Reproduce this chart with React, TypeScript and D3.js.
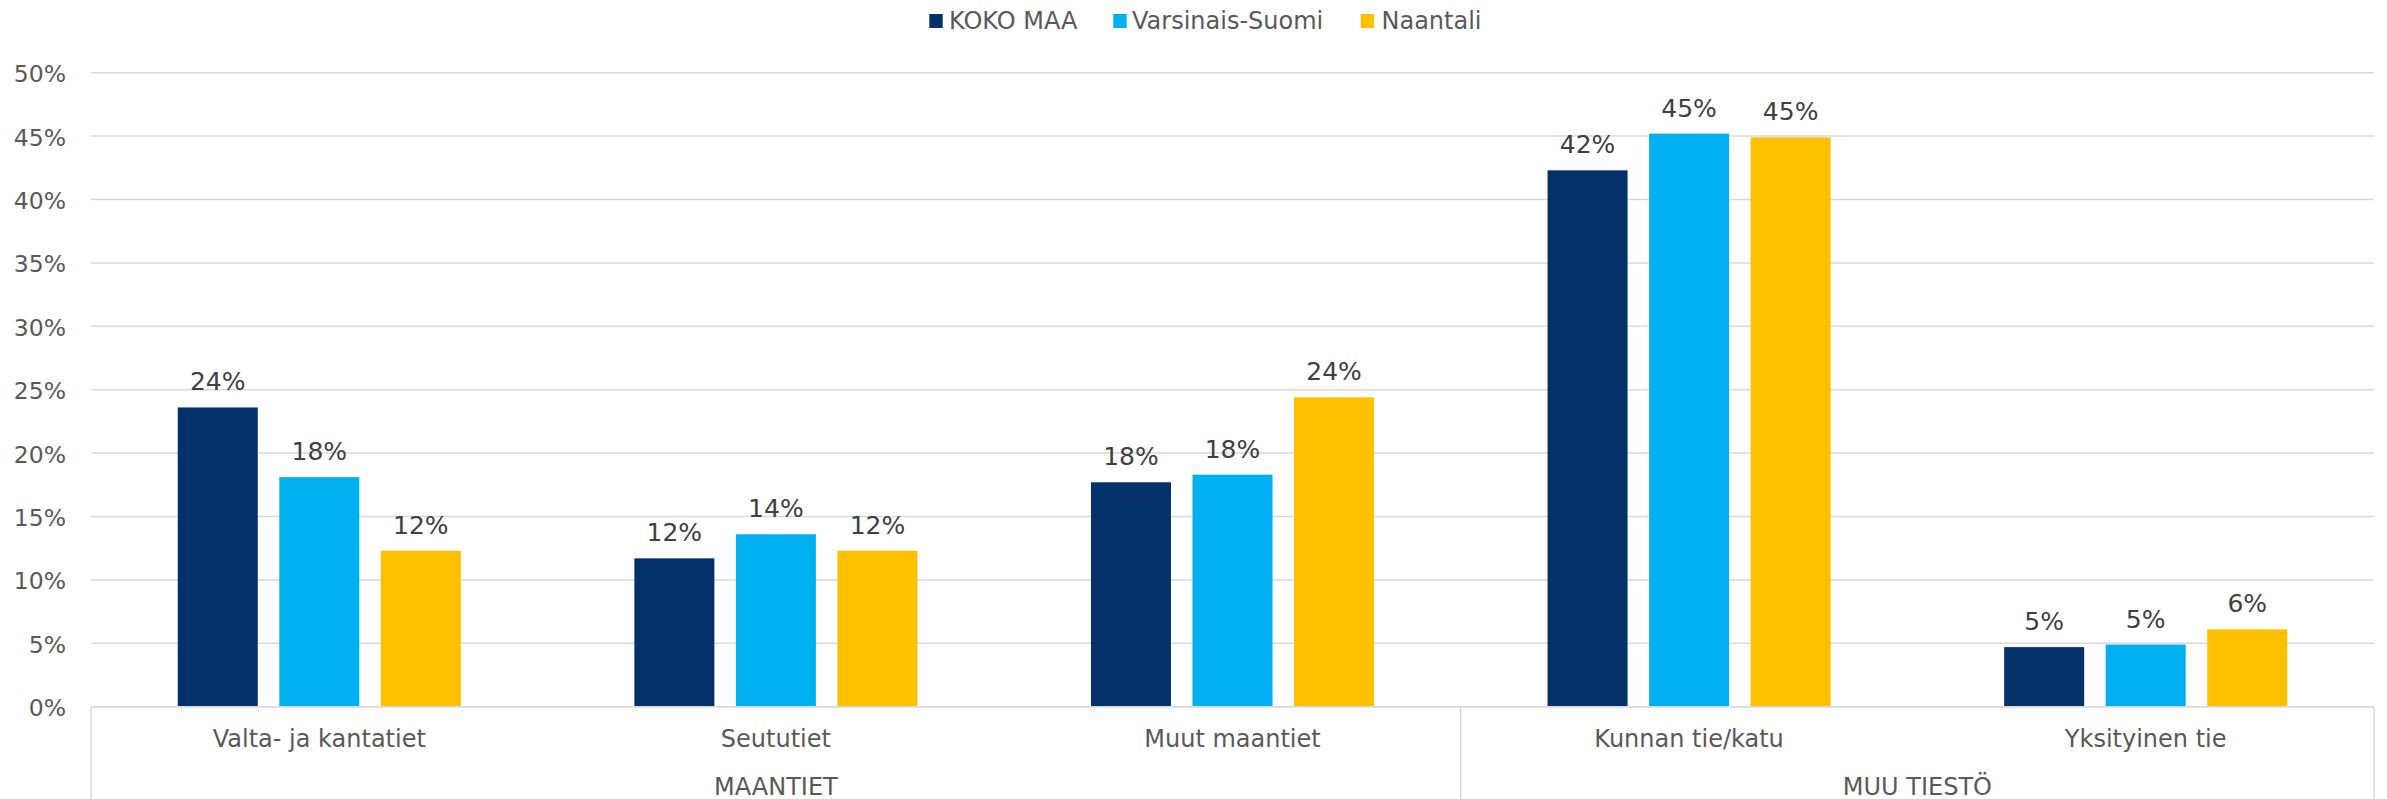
import React from "react";
import * as d3 from "d3";

const categories = ["Valta- ja kantatiet", "Seututiet", "Muut maantiet", "Kunnan tie/katu", "Yksityinen tie"];
const groups = [
  { name: "MAANTIET", count: 3 },
  { name: "MUU TIESTÖ", count: 2 },
];
const seriesNames = ["KOKO MAA", "Varsinais-Suomi", "Naantali"];
const kokoMaa = [23.6, 11.7, 17.7, 42.3, 4.7];
const varsinaisSuomi = [18.1, 13.6, 18.3, 45.2, 4.9];
const naantali = [12.3, 12.3, 24.4, 44.9, 6.1];
const seriesValues = [kokoMaa, varsinaisSuomi, naantali];
const colors = ["#05316B", "#00B0F0", "#FFC000"];
const yTicks = [0, 5, 10, 15, 20, 25, 30, 35, 40, 45, 50];

const W = 2387;
const H = 799;
const left = 91;
const right = 2374;
const top = 72.7;
const bottom = 706.7;
const font = "'DejaVu Sans', Verdana, sans-serif";

export default function App() {
  const x = d3.scaleBand<string>().domain(categories).range([left, right]).padding(0);
  const y = d3.scaleLinear().domain([0, 50]).range([bottom, top]);
  const cw = x.bandwidth();
  const inner = d3
    .scaleBand<string>()
    .domain(seriesNames)
    .range([-cw * 0.31, cw * 0.31])
    .paddingInner(0.212)
    .paddingOuter(0);

  let idx = 0;
  const groupSpans = groups.map((g) => {
    const x0 = x(categories[idx])!;
    const x1 = x(categories[idx + g.count - 1])! + cw;
    idx += g.count;
    return { ...g, x0, x1 };
  });

  const legendItems = [
    { sq: 929.3, tx: 949 },
    { sq: 1113.3, tx: 1132 },
    { sq: 1360.7, tx: 1381.5 },
  ];

  return (
    <div style={{ position: "absolute", left: 0, top: 0 }}>
      <svg width={W} height={H} style={{ display: "block", background: "#fff" }}>
        {yTicks.map((t) => (
          <line key={"g" + t} x1={left} x2={right} y1={y(t)} y2={y(t)} stroke="#d9d9d9" strokeWidth={1.5} />
        ))}
        {yTicks.map((t) => (
          <text
            key={"t" + t}
            x={66}
            y={y(t) + 1.5}
            textAnchor="end"
            dominantBaseline="central"
            fontFamily={font}
            fontSize={23.5}
            fill="#595959"
          >
            {t + "%"}
          </text>
        ))}
        {categories.map((c, ci) =>
          seriesNames.map((s, si) => {
            const v = seriesValues[si][ci];
            const bx = x(c)! + cw / 2 + inner(s)!;
            const by = y(v);
            return (
              <g key={c + s}>
                <rect x={bx} y={by} width={inner.bandwidth()} height={bottom - by} fill={colors[si]} />
                <text
                  x={bx + inner.bandwidth() / 2}
                  y={by - 17}
                  textAnchor="middle"
                  fontFamily={font}
                  fontSize={25}
                  fill="#404040"
                >
                  {Math.round(v) + "%"}
                </text>
              </g>
            );
          })
        )}
        <line x1={left} x2={right} y1={bottom} y2={bottom} stroke="#d9d9d9" strokeWidth={1.5} />
        {[left, groupSpans[0].x1, right].map((xx, i) => (
          <line key={"v" + i} x1={xx} x2={xx} y1={bottom} y2={H} stroke="#d9d9d9" strokeWidth={1.5} />
        ))}
        {categories.map((c) => (
          <text
            key={"c" + c}
            x={x(c)! + cw / 2}
            y={746.5}
            textAnchor="middle"
            fontFamily={font}
            fontSize={24}
            fill="#595959"
          >
            {c}
          </text>
        ))}
        {groupSpans.map((g) => (
          <text
            key={"gr" + g.name}
            x={(g.x0 + g.x1) / 2}
            y={794.5}
            textAnchor="middle"
            fontFamily={font}
            fontSize={24}
            fill="#595959"
          >
            {g.name}
          </text>
        ))}
        {seriesNames.map((s, i) => (
          <g key={"l" + s}>
            <rect x={legendItems[i].sq} y={14} width={13.4} height={14} fill={colors[i]} />
            <text x={legendItems[i].tx} y={29} fontFamily={font} fontSize={24} fill="#595959">
              {s}
            </text>
          </g>
        ))}
      </svg>
    </div>
  );
}
